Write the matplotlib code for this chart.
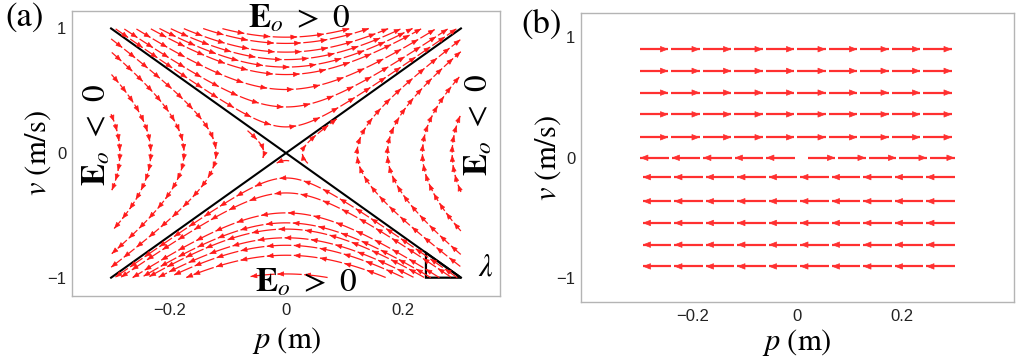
import numpy as np
import matplotlib.pyplot as plt
from matplotlib.patches import Polygon

plt.rcParams['mathtext.fontset'] = 'stix'
plt.rcParams['font.family'] = 'Liberation Sans'

W, H = 1017, 363

# separatrices v = +-lam*p, plot range p in [-0.3, 0.3], v in [-1, 1]
lam = 1 / 0.3
p_max, v_max = 0.3, 1.0

# panel (a): vertex of each streamline
top_v0 = [0.93, 0.88, 0.81, 0.75, 0.69, 0.63, 0.51, 0.37, 0.21]
bottom_v0 = [-0.20, -0.32, -0.48, -0.56, -0.61, -0.68, -0.74, -0.82, -0.97]
left_p0 = [-0.285, -0.232, -0.175, -0.12]
right_p0 = [0.122, 0.174, 0.234, 0.285]
# short streams close to the saddle (seed p, seed v, start/stop along the stream)
short_p = [-0.038, 0.028, 0.0]
short_v = [0.0, 0.0, -0.06]
short_s0 = [-1.15, -0.8, -0.3]
short_s1 = [0.3, 1.8, 0.8]

# panel (b): rows of the stream plot, direction of each row
rows_v = [0.9, 0.72, 0.54, 0.36, 0.17, 0.0, -0.16, -0.36, -0.54, -0.72, -0.9]
rows_dir = [1, 1, 1, 1, 1, 0, -1, -1, -1, -1, -1]   # 0 = splits at p=0
row_segs = 10

RED = '#ff1a1a'


def flow(p0, v0, s):
    # solution of dp/dt = v, dv/dt = lam^2 p through (p0, v0)
    p = p0 * np.cosh(s) + v0 / lam * np.sinh(s)
    v = v0 * np.cosh(s) + lam * p0 * np.sinh(s)
    return p, v


def clip_box(p, v):
    m = (np.abs(p) <= p_max + 1e-9) & (np.abs(v) <= v_max + 1e-9)
    return p[m], v[m]


def draw_stream(ax, p, v, seg_len, gap=2.5, lw=0.9, head=7, color=RED):
    pts = ax.transData.transform(np.column_stack([p, v]))
    d = np.hypot(*np.diff(pts, axis=0).T)
    cum = np.concatenate([[0], np.cumsum(d)])
    total = cum[-1]
    start = 0.0
    while start < total - 4:
        i = min(np.searchsorted(cum, start), len(pts) - 2)
        dx, dy = pts[i + 1] - pts[i]
        c = abs(dx) / max(np.hypot(dx, dy), 1e-9)
        L = seg_len(c) if callable(seg_len) else seg_len
        end = min(start + L - gap, total)
        t = np.linspace(start, end, 15)
        sp = np.interp(t, cum, p)
        sv = np.interp(t, cum, v)
        ax.plot(sp, sv, color=color, lw=lw, solid_capstyle='butt')
        if end - start > 5:
            ax.annotate('', xy=(sp[-1], sv[-1]), xytext=(sp[-3], sv[-3]),
                        arrowprops=dict(arrowstyle='-|>,head_length=0.55,head_width=0.22',
                                        color=color, lw=0.5, shrinkA=0, shrinkB=0,
                                        mutation_scale=head))
        start += L


fig = plt.figure(figsize=(W / 100, H / 100), dpi=100)
ax1 = fig.add_axes([72 / W, 1 - 296 / H, 428 / W, 285 / H])
ax2 = fig.add_axes([581 / W, 1 - 302 / H, 433 / W, 289 / H])

ax1.set_xlim(-0.367, 0.367)
ax1.set_ylim(-1.147, 1.14)
ax2.set_xlim(-0.412, 0.413)
ax2.set_ylim(-1.195, 1.2)

seg_a = lambda c: 10 + 17 * c ** 4
s = np.linspace(-4, 4, 1500)

for v0 in top_v0 + bottom_v0:
    draw_stream(ax1, *clip_box(*flow(0.0, v0, s)), seg_a)
for p0 in left_p0 + right_p0:
    draw_stream(ax1, *clip_box(*flow(p0, 0.0, s)), seg_a)
for p0, v0, s0, s1 in zip(short_p, short_v, short_s0, short_s1):
    draw_stream(ax1, *flow(p0, v0, np.linspace(s0, s1, 300)), seg_a)

# separatrices and the slope triangle
ax1.plot([-p_max, p_max], [v_max, -v_max], color='black', lw=1.5)
ax1.plot([-p_max, p_max], [-v_max, v_max], color='black', lw=1.5)
ax1.add_patch(Polygon([[0.24, -1.0], [0.3, -1.0], [0.24, -0.8]], closed=True,
                      fill=False, edgecolor='black', lw=1.6))

lbl_pos = r'$\mathbf{E}_o\ >\ 0$'
lbl_neg = r'$\mathbf{E}_o\ <\ 0$'
ax1.text(0.022, 1.075, lbl_pos, fontsize=24, ha='center', va='center')
ax1.text(0.034, -1.04, lbl_pos, fontsize=24, ha='center', va='center')
ax1.text(-0.324, 0.15, lbl_neg, fontsize=24, ha='center', va='center', rotation=90)
ax1.text(0.33, 0.23, lbl_neg, fontsize=24, ha='center', va='center', rotation=90)
ax1.text(0.343, -0.92, r'$\lambda$', fontsize=22, ha='center', va='center')

# panel (b): uniform horizontal flow
row_len = 2 * 0.3 * 525 / row_segs
for v0, dr in zip(rows_v, rows_dir):
    if dr == 0:
        pl = np.linspace(-0.005, -p_max, 50)
        draw_stream(ax2, pl, np.full_like(pl, v0), row_len, gap=3, lw=1.6, head=9, color='#ff3030')
        pr = np.linspace(0.02, p_max, 50)
        draw_stream(ax2, pr, np.full_like(pr, v0), row_len - 1, gap=3, lw=1.6, head=9, color='#ff3030')
    else:
        pp = np.linspace(-p_max, p_max, 100)[::dr]
        draw_stream(ax2, pp, np.full_like(pp, v0), row_len, gap=3, lw=1.6, head=9, color='#ff3030')

for ax in (ax1, ax2):
    ax.set_xticks([-0.2, 0, 0.2])
    ax.set_xticklabels(['\u22120.2', '0', '0.2'])
    ax.set_yticks([-1, 0, 1])
    ax.set_yticklabels(['\u22121', '0', '1'])
    ax.tick_params(length=0, labelsize=12, colors='#222222')
    ax.tick_params(axis='x', pad=5)
    ax.tick_params(axis='y', pad=4)
    for sp_ in ax.spines.values():
        sp_.set_color('#b4b4b4')
        sp_.set_linewidth(1.0)

fig.text(287 / W, 1 - 340 / H, r'$p\ (\mathrm{m})$', fontsize=22, ha='center', va='center')
fig.text(797 / W, 1 - 342 / H, r'$p\ (\mathrm{m})$', fontsize=22, ha='center', va='center')
fig.text(38 / W, 1 - 153 / H, r'$v\ (\mathrm{m/s})$', fontsize=22, ha='center', va='center', rotation=90)
fig.text(548 / W, 1 - 158 / H, r'$v\ (\mathrm{m/s})$', fontsize=22, ha='center', va='center', rotation=90)
fig.text(25 / W, 1 - 18 / H, '(a)', family='STIXGeneral', fontsize=25, ha='center', va='center')
fig.text(542 / W, 1 - 25 / H, '(b)', family='STIXGeneral', fontsize=25, ha='center', va='center')

fig.savefig('out.png', dpi=100)
